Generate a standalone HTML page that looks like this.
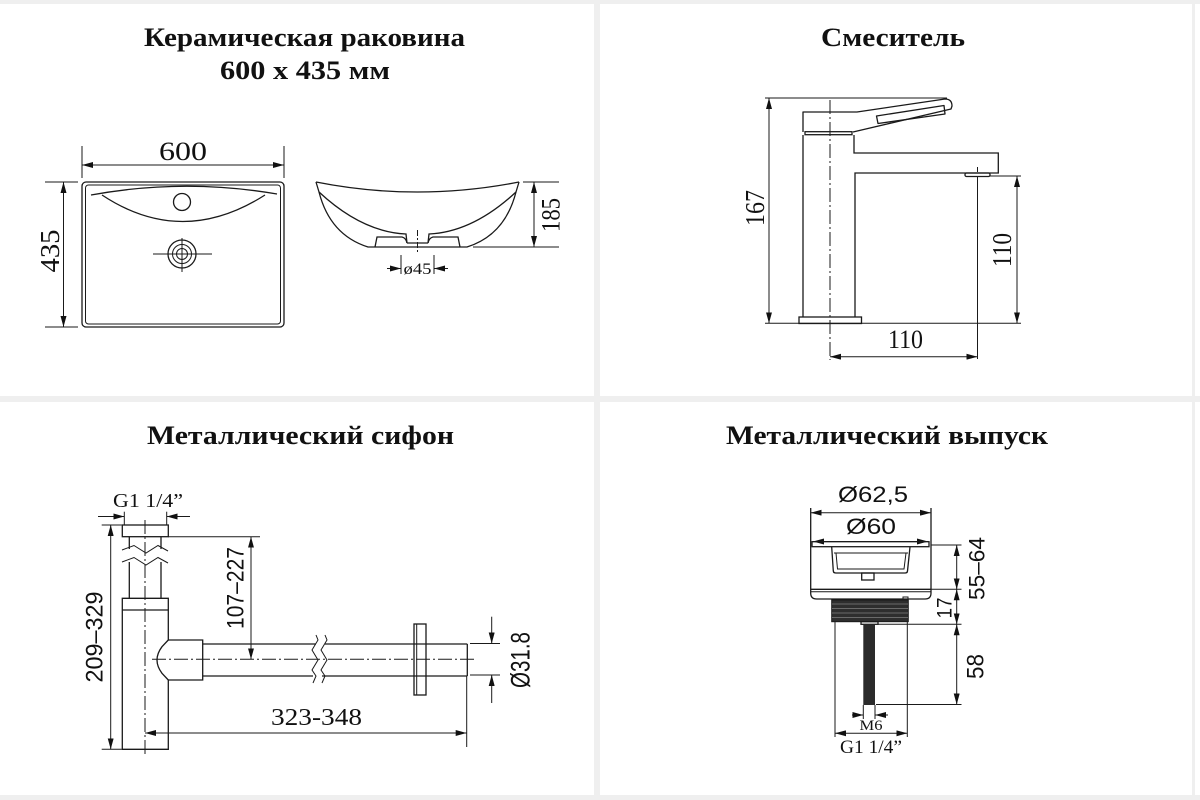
<!DOCTYPE html>
<html><head><meta charset="utf-8"><style>
html,body{margin:0;padding:0;background:#fff;}
svg{display:block;}
.l{stroke:#1a1a1a;stroke-width:1.3;fill:none;}
.t{stroke:#1a1a1a;stroke-width:1;fill:none;}
.c{stroke:#1a1a1a;stroke-width:1;fill:none;stroke-dasharray:14 3 2 3;}
.ti{font-family:"Liberation Serif","DejaVu Serif",serif;font-weight:bold;fill:#111;}
.s{font-family:"Liberation Serif","DejaVu Serif",serif;fill:#111;}
.a{font-family:"Liberation Sans","DejaVu Sans",sans-serif;fill:#111;}
</style></head><body>
<svg width="1200" height="800" viewBox="0 0 1200 800" xmlns="http://www.w3.org/2000/svg">
<defs>
<marker id="m" viewBox="0 0 11 6" refX="11" refY="3" markerWidth="11" markerHeight="6" markerUnits="userSpaceOnUse" orient="auto-start-reverse"><path d="M0,0 L11,3 L0,6 z" fill="#111"/></marker>
</defs>
<rect width="1200" height="800" fill="#fff"/>
<!-- separators -->
<rect x="0" y="0" width="1200" height="4" fill="#efefef"/>
<rect x="594" y="0" width="6" height="800" fill="#efefef"/>
<rect x="0" y="396" width="1200" height="6" fill="#efefef"/>
<rect x="0" y="795" width="1200" height="5" fill="#efefef"/>
<rect x="1192" y="0" width="3" height="800" fill="#efefef"/>

<!-- ========== PANEL 1 ========== -->
<text class="ti" x="304.5" y="46" font-size="26" text-anchor="middle" textLength="321" lengthAdjust="spacingAndGlyphs">Керамическая раковина</text>
<text class="ti" x="305" y="79" font-size="26" text-anchor="middle" textLength="170" lengthAdjust="spacingAndGlyphs">600 x 435 мм</text>

<rect class="l" x="82" y="182" width="202" height="145" rx="4"/>
<rect class="t" x="85.5" y="185" width="195" height="139" rx="3"/>
<path class="l" d="M91,195 Q184,178 277,194"/>
<path class="l" d="M102,195 Q182,248 265,195"/>
<circle class="l" cx="182" cy="202" r="8.5"/>
<circle class="l" cx="182" cy="254" r="14"/>
<circle class="t" cx="182" cy="254" r="9.5"/>
<circle class="t" cx="182" cy="254" r="5.5"/>
<line class="t" x1="153" y1="254" x2="212" y2="254"/>
<line class="t" x1="182" y1="238" x2="182" y2="272"/>
<!-- 600 -->
<line class="t" x1="82" y1="146" x2="82" y2="178"/>
<line class="t" x1="284" y1="146" x2="284" y2="178"/>
<line class="t" x1="82" y1="165" x2="284" y2="165" marker-start="url(#m)" marker-end="url(#m)"/>
<text class="s" x="183" y="160" font-size="26" text-anchor="middle" textLength="48" lengthAdjust="spacingAndGlyphs">600</text>
<!-- 435 -->
<line class="t" x1="45" y1="182" x2="78" y2="182"/>
<line class="t" x1="45" y1="327" x2="78" y2="327"/>
<line class="t" x1="63.5" y1="182" x2="63.5" y2="327" marker-start="url(#m)" marker-end="url(#m)"/>
<text class="s" transform="translate(50,251) rotate(-90)" y="9" font-size="27" text-anchor="middle" textLength="43" lengthAdjust="spacingAndGlyphs">435</text>

<!-- side view -->
<path class="l" d="M316,182 Q417,202 519,182"/>
<path class="l" d="M316,182 L319,192 Q330,235 368,247 L467,247 Q505,235 516,192 L519,182"/>
<path class="l" d="M319,192 Q362,232 406,234 L407,243"/>
<path class="l" d="M516,192 Q473,232 429,234 L428,243"/>
<line class="l" x1="407" y1="243" x2="428" y2="243"/>
<path class="l" d="M375,247 L377,237 L402,237 Q406,238 407,243"/>
<path class="l" d="M460,247 L458,237 L433,237 Q429,238 428,243"/>
<line class="t" x1="417.5" y1="230" x2="417.5" y2="252" stroke-dasharray="6 2 2 2"/>
<!-- 185 -->
<line class="t" x1="523" y1="182" x2="559" y2="182"/>
<line class="t" x1="473" y1="247" x2="559" y2="247"/>
<line class="t" x1="534" y1="182" x2="534" y2="247" marker-start="url(#m)" marker-end="url(#m)"/>
<text class="s" transform="translate(551,215) rotate(-90)" y="8.5" font-size="26" text-anchor="middle" textLength="34" lengthAdjust="spacingAndGlyphs">185</text>
<!-- ø45 -->
<line class="t" x1="401" y1="255" x2="401" y2="274"/>
<line class="t" x1="434" y1="255" x2="434" y2="274"/>
<line class="t" x1="387" y1="268.5" x2="401" y2="268.5" marker-end="url(#m)"/>
<line class="t" x1="448" y1="268.5" x2="434" y2="268.5" marker-end="url(#m)"/>
<text class="s" x="417.5" y="274" font-size="16" text-anchor="middle" textLength="28" lengthAdjust="spacingAndGlyphs">ø45</text>

<!-- ========== PANEL 2 ========== -->
<text class="ti" x="893" y="46" font-size="26" text-anchor="middle" textLength="144" lengthAdjust="spacingAndGlyphs">Смеситель</text>
<line class="t" x1="765" y1="98" x2="947" y2="98"/>
<path class="l" stroke-linejoin="round" d="M803,132 L803,112 L857,112 L945,99 Q952,99 952,106 L951,109 L853,132"/>
<rect class="l" x="805" y="131.7" width="47" height="3"/>
<path class="l" stroke-linejoin="round" d="M876.5,116 L944,105.5 L945,114 L878,123.5 Z"/>
<path class="l" d="M803,135 L803,317"/>
<path class="l" d="M854,135 L854,153 L998.3,153 L998.3,173 L855,173 L855,317"/>
<rect class="l" x="965" y="173" width="25" height="3.5" rx="1.5"/>
<rect class="l" x="799" y="317" width="62.5" height="6.5"/>
<line class="c" x1="830" y1="100" x2="830" y2="360"/>
<line class="t" x1="977.5" y1="167" x2="977.5" y2="172" />
<line class="t" x1="977.5" y1="177" x2="977.5" y2="359"/>
<line class="t" x1="990" y1="176" x2="1021" y2="176"/>
<line class="t" x1="765" y1="323.3" x2="1021" y2="323.3"/>
<!-- 167 -->
<line class="t" x1="769" y1="98" x2="769" y2="323.3" marker-start="url(#m)" marker-end="url(#m)"/>
<text class="s" transform="translate(755,208) rotate(-90)" y="9" font-size="27" text-anchor="middle" textLength="36" lengthAdjust="spacingAndGlyphs">167</text>
<!-- 110 right -->
<line class="t" x1="1017" y1="176" x2="1017" y2="323.3" marker-start="url(#m)" marker-end="url(#m)"/>
<text class="s" transform="translate(1002,250) rotate(-90)" y="9" font-size="27" text-anchor="middle" textLength="34" lengthAdjust="spacingAndGlyphs">110</text>
<!-- 110 bottom -->
<line class="t" x1="830" y1="356.7" x2="977.5" y2="356.7" marker-start="url(#m)" marker-end="url(#m)"/>
<text class="s" x="905.5" y="348" font-size="26" text-anchor="middle" textLength="35" lengthAdjust="spacingAndGlyphs">110</text>

<!-- ========== PANEL 3 ========== -->
<text class="ti" x="300.5" y="444" font-size="26" text-anchor="middle" textLength="307" lengthAdjust="spacingAndGlyphs">Металлический сифон</text>
<text class="s" x="148" y="507" font-size="20" text-anchor="middle" textLength="70" lengthAdjust="spacingAndGlyphs">G1 1/4”</text>
<line class="t" x1="124.3" y1="511.7" x2="124.3" y2="525"/>
<line class="t" x1="166.7" y1="511.7" x2="166.7" y2="525"/>
<line class="t" x1="98" y1="516.5" x2="124.3" y2="516.5" marker-end="url(#m)"/>
<line class="t" x1="190" y1="516.5" x2="166.7" y2="516.5" marker-end="url(#m)"/>
<rect class="l" x="122.3" y="525" width="46" height="11.7"/>
<line class="l" x1="129.3" y1="536.7" x2="129.3" y2="549"/>
<line class="l" x1="161" y1="536.7" x2="161" y2="549"/>
<path class="t" d="M122,550 L134,545.5 L146,553 L158,545.5 L168,551"/>
<path class="t" d="M122,562 L134,557.5 L146,565 L158,557.5 L168,563"/>
<line class="l" x1="129.3" y1="562" x2="129.3" y2="598.3"/>
<line class="l" x1="161" y1="562" x2="161" y2="598.3"/>
<path class="l" d="M168.3,640 L168.3,598.3 L122.3,598.3 L122.3,749.3 L168.3,749.3 L168.3,680"/>
<line class="l" x1="122.3" y1="610" x2="168.3" y2="610"/>
<path class="l" d="M168.3,640 L162,646.7 Q152,660 162,673.3 L168.3,680"/>
<path class="l" d="M168.3,640 L202.7,640 L202.7,680 L168.3,680"/>
<line class="l" x1="202.7" y1="644" x2="316" y2="644"/>
<line class="l" x1="202.7" y1="676" x2="313" y2="676"/>
<line class="l" x1="325" y1="644" x2="467.3" y2="644"/>
<line class="l" x1="322" y1="676" x2="467.3" y2="676"/>
<line class="l" x1="467.3" y1="644" x2="467.3" y2="676"/>
<path class="t" d="M316,635 L318,640 L312,650 L318,660 L312,670 L316,676 L313,683"/>
<path class="t" d="M325,635 L327,640 L321,650 L327,660 L321,670 L325,676 L322,683"/>
<rect class="l" x="414" y="624" width="12" height="71"/>
<line class="t" x1="416.7" y1="624" x2="416.7" y2="695"/>
<line class="c" x1="145" y1="520" x2="145" y2="756"/>
<line class="c" x1="152" y1="659.3" x2="476" y2="659.3" stroke-dasharray="22 4 3 4"/>
<!-- 107-227 -->
<line class="t" x1="168.3" y1="536.7" x2="260" y2="536.7"/>
<line class="t" x1="251" y1="536.7" x2="251" y2="659.3" marker-start="url(#m)" marker-end="url(#m)"/>
<text class="a" transform="translate(235,588) rotate(-90)" y="8.5" font-size="24" text-anchor="middle" textLength="82" lengthAdjust="spacingAndGlyphs">107–227</text>
<!-- 209-329 -->
<line class="t" x1="101.7" y1="525" x2="121.7" y2="525"/>
<line class="t" x1="101.7" y1="749.3" x2="121.7" y2="749.3"/>
<line class="t" x1="110.7" y1="525" x2="110.7" y2="749.3" marker-start="url(#m)" marker-end="url(#m)"/>
<text class="a" transform="translate(94,637) rotate(-90)" y="8.5" font-size="24" text-anchor="middle" textLength="91" lengthAdjust="spacingAndGlyphs">209–329</text>
<!-- 323-348 -->
<line class="t" x1="466.7" y1="676" x2="466.7" y2="747"/>
<line class="t" x1="145" y1="733" x2="466.7" y2="733" marker-start="url(#m)" marker-end="url(#m)"/>
<text class="s" x="316.5" y="725" font-size="24" text-anchor="middle" textLength="91" lengthAdjust="spacingAndGlyphs">323-348</text>
<!-- Ø31.8 -->
<line class="t" x1="470" y1="643.5" x2="500" y2="643.5"/>
<line class="t" x1="470" y1="675" x2="500" y2="675"/>
<line class="t" x1="491.7" y1="616.7" x2="491.7" y2="643.5" marker-end="url(#m)"/>
<line class="t" x1="491.7" y1="703" x2="491.7" y2="675" marker-end="url(#m)"/>
<text class="a" transform="translate(520,660) rotate(-90)" y="9.5" font-size="27" text-anchor="middle" textLength="56" lengthAdjust="spacingAndGlyphs">Ø31.8</text>

<!-- ========== PANEL 4 ========== -->
<text class="ti" x="887" y="444" font-size="26" text-anchor="middle" textLength="322" lengthAdjust="spacingAndGlyphs">Металлический выпуск</text>
<text class="a" x="873" y="502" font-size="22" text-anchor="middle" textLength="70" lengthAdjust="spacingAndGlyphs">Ø62,5</text>
<line class="t" x1="810.7" y1="512.7" x2="931" y2="512.7" marker-start="url(#m)" marker-end="url(#m)"/>
<text class="a" x="871" y="534" font-size="22" text-anchor="middle" textLength="50" lengthAdjust="spacingAndGlyphs">Ø60</text>
<line class="t" x1="813" y1="541.5" x2="928" y2="541.5" marker-start="url(#m)" marker-end="url(#m)"/>
<rect class="l" x="812" y="541.7" width="117" height="5"/>
<path class="l" d="M810.7,508 L810.7,593 Q810.7,599 816.7,599 L925,599 Q931,599 931,593 L931,508"/>
<line class="l" x1="811" y1="589.3" x2="931" y2="589.3"/>
<line class="t" x1="811" y1="591.8" x2="931" y2="591.8"/>
<path class="l" d="M831.7,547 L833.3,571 Q833.5,573 836,573 L905,573 Q907.3,573 907.5,571 L910,547"/>
<path class="t" d="M834,553 L908,553"/>
<path class="t" d="M836,553 L837.5,569 L904,569 L906,553"/>
<rect class="l" x="861.7" y="573" width="12.3" height="7"/>
<rect x="831.7" y="600" width="76.6" height="21.7" fill="#2e2e2e" stroke="#1a1a1a" stroke-width="1"/>
<line x1="832" y1="604" x2="908" y2="604" stroke="#6a6a6a" stroke-width="1"/>
<line x1="832" y1="608.5" x2="908" y2="608.5" stroke="#6a6a6a" stroke-width="1"/>
<line x1="832" y1="613" x2="908" y2="613" stroke="#6a6a6a" stroke-width="1"/>
<line x1="832" y1="617.5" x2="908" y2="617.5" stroke="#6a6a6a" stroke-width="1"/>
<rect class="t" x="903" y="597" width="5" height="3"/>
<rect class="l" x="861" y="621.7" width="17" height="2.6"/>
<rect x="863.3" y="624.3" width="11.7" height="80.7" fill="#2b2b2b"/>
<line class="t" x1="835" y1="622" x2="835" y2="737"/>
<line class="t" x1="907.3" y1="622" x2="907.3" y2="737"/>
<line class="t" x1="863.3" y1="705" x2="863.3" y2="719"/>
<line class="t" x1="875" y1="705" x2="875" y2="719"/>
<line class="t" x1="852" y1="715" x2="863.3" y2="715" marker-end="url(#m)"/>
<line class="t" x1="888" y1="715" x2="875" y2="715" marker-end="url(#m)"/>
<text class="s" x="871" y="730" font-size="15" text-anchor="middle" textLength="23" lengthAdjust="spacingAndGlyphs">M6</text>
<line class="t" x1="835" y1="733.3" x2="907.3" y2="733.3" marker-start="url(#m)" marker-end="url(#m)"/>
<text class="s" x="871" y="753" font-size="19" text-anchor="middle" textLength="62" lengthAdjust="spacingAndGlyphs">G1 1/4”</text>
<!-- right dims -->
<line class="t" x1="931" y1="545" x2="961.5" y2="545"/>
<line class="t" x1="931" y1="589.3" x2="961.5" y2="589.3"/>
<line class="t" x1="878" y1="624.3" x2="961.5" y2="624.3"/>
<line class="t" x1="876" y1="704.5" x2="961.5" y2="704.5"/>
<line class="t" x1="956.7" y1="545" x2="956.7" y2="589.3" marker-start="url(#m)" marker-end="url(#m)"/>
<line class="t" x1="956.7" y1="589.3" x2="956.7" y2="624.3" marker-start="url(#m)" marker-end="url(#m)"/>
<line class="t" x1="956.7" y1="624.3" x2="956.7" y2="704.5" marker-start="url(#m)" marker-end="url(#m)"/>
<text class="a" transform="translate(976.5,568.5) rotate(-90)" y="8" font-size="22" text-anchor="middle" textLength="63" lengthAdjust="spacingAndGlyphs">55–64</text>
<text class="a" transform="translate(944,608) rotate(-90)" y="7.5" font-size="21" text-anchor="middle" textLength="21" lengthAdjust="spacingAndGlyphs">17</text>
<text class="a" transform="translate(975,666.5) rotate(-90)" y="8.5" font-size="24" text-anchor="middle" textLength="25" lengthAdjust="spacingAndGlyphs">58</text>
</svg>
</body></html>
